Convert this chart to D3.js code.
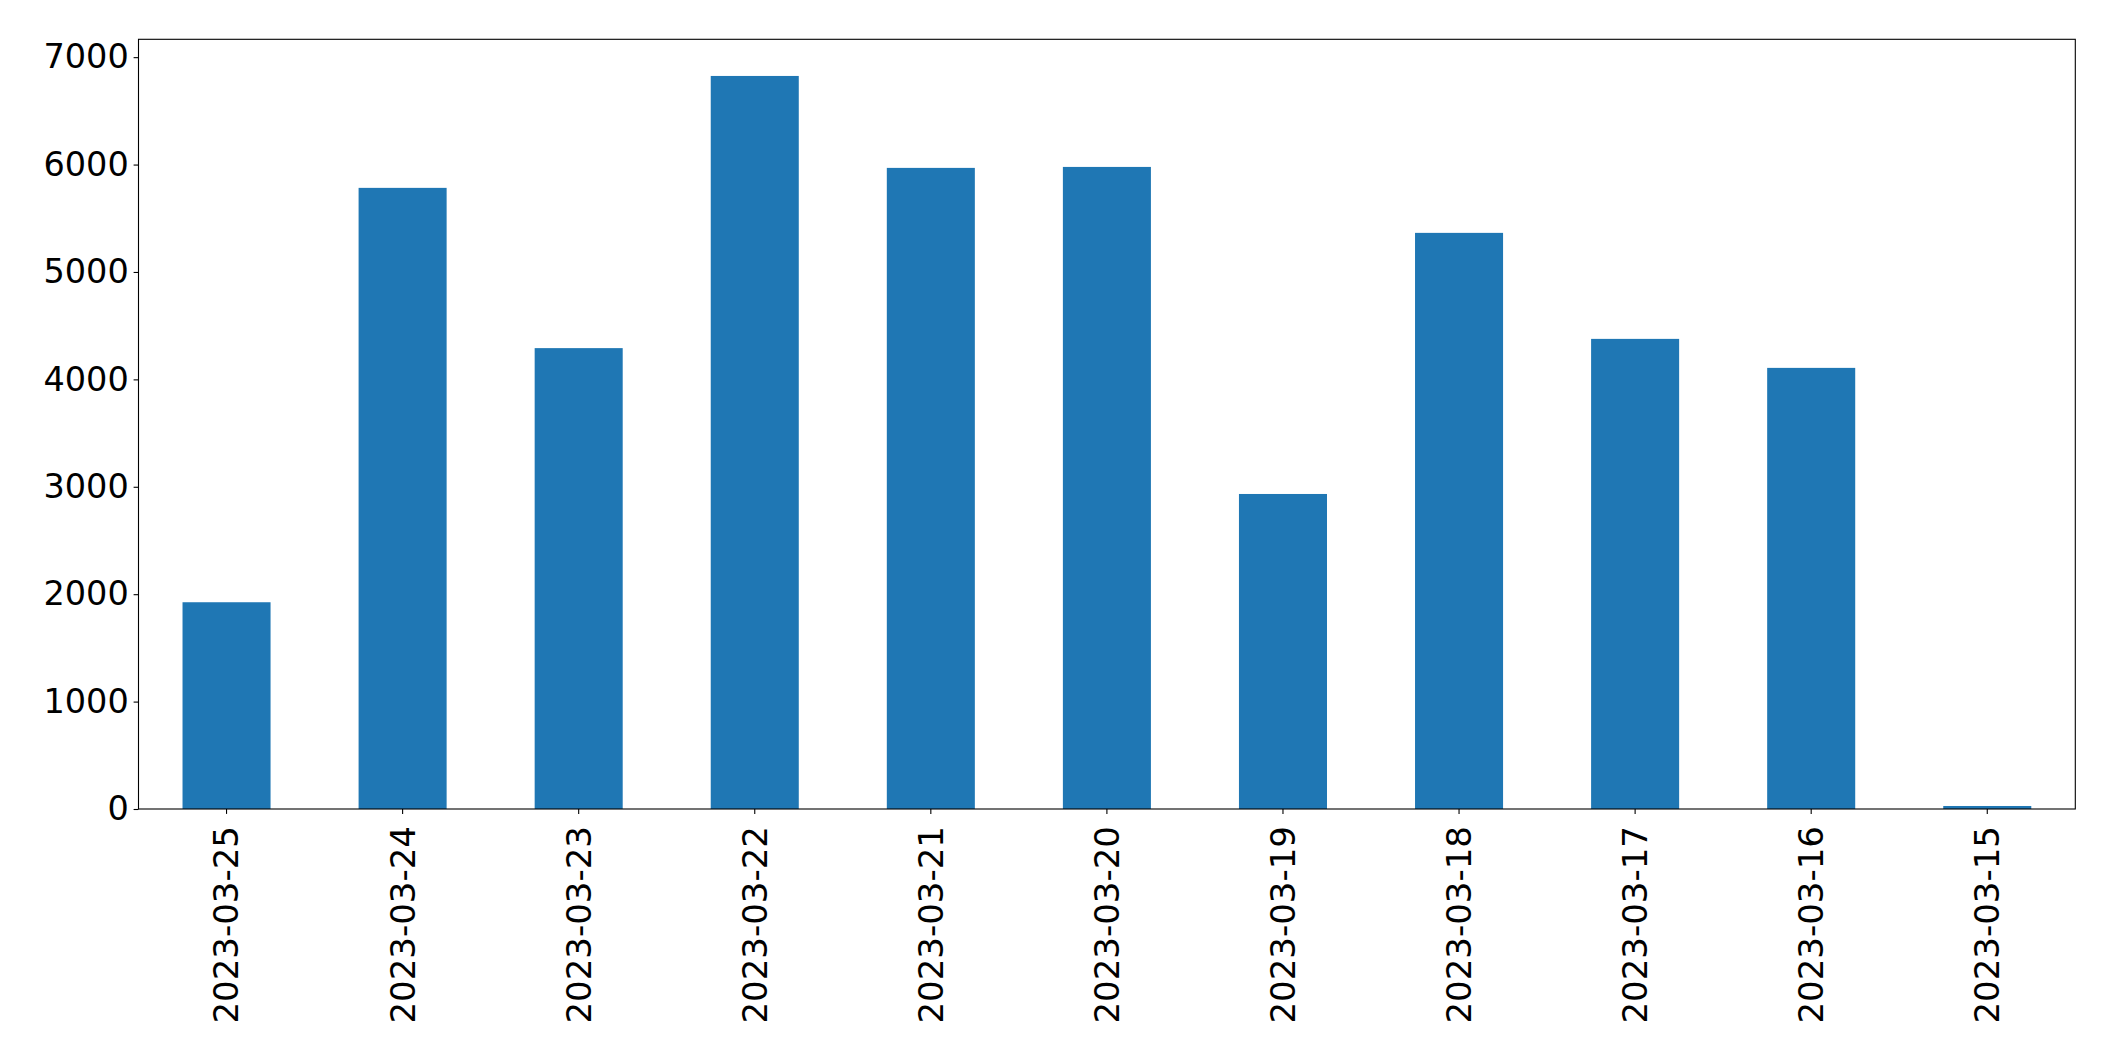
<!DOCTYPE html>
<html>
<head>
<meta charset="utf-8">
<script src="https://cdn.jsdelivr.net/npm/d3@7"></script>
<style>
  html, body { margin: 0; padding: 0; background: #fff; }
  svg { display: block; }
  text { font-family: "DejaVu Sans", sans-serif; }
</style>
</head>
<body>
<script>
const categories = ["2023-03-25","2023-03-24","2023-03-23","2023-03-22","2023-03-21","2023-03-20","2023-03-19","2023-03-18","2023-03-17","2023-03-16","2023-03-15"];
const values = [1925, 5783, 4291, 6825, 5969, 5978, 2933, 5364, 4377, 4107, 28];
const yTicks = [0, 1000, 2000, 3000, 4000, 5000, 6000, 7000];

(function () {
const W = 2115, H = 1061;
const mLeft = 138.5, mRight = 2075.3, mTop = 39.3, mBottom = 809;

const svg = d3.select("body").append("svg").attr("width", W).attr("height", H);

const x = d3.scaleBand().domain(categories).range([mLeft, mRight]).paddingInner(0.5).paddingOuter(0.25);
const y = d3.scaleLinear().domain([0, d3.max(values) * 1.05]).range([mBottom, mTop]);

svg.append("g").selectAll("rect").data(values).join("rect")
  .attr("x", (d, i) => x(categories[i]))
  .attr("width", x.bandwidth())
  .attr("y", d => y(d))
  .attr("height", d => mBottom - y(d))
  .attr("fill", "#1f77b4");

const yAxis = svg.append("g").attr("transform", `translate(${mLeft},0)`)
  .call(d3.axisLeft(y).tickValues(yTicks).tickFormat(d3.format("d")).tickSize(4.9).tickPadding(4.9));
yAxis.select(".domain").remove();
yAxis.selectAll("line").attr("stroke", "#000").attr("stroke-width", 1.1);
yAxis.selectAll("text").attr("font-size", "33.5px").attr("fill", "#000").attr("font-family", "DejaVu Sans");

const xAxis = svg.append("g").attr("transform", `translate(0,${mBottom})`)
  .call(d3.axisBottom(x).tickSize(4.9).tickPadding(4.9));
xAxis.select(".domain").remove();
xAxis.selectAll("line").attr("stroke", "#000").attr("stroke-width", 1.1);
xAxis.selectAll("text")
  .attr("font-size", "34px").attr("fill", "#000").attr("font-family", "DejaVu Sans")
  .attr("transform", "rotate(-90)")
  .attr("text-anchor", "end")
  .attr("x", -17)
  .attr("y", 0)
  .attr("dy", "0.35em");

svg.append("rect")
  .attr("x", mLeft).attr("y", mTop)
  .attr("width", mRight - mLeft).attr("height", mBottom - mTop)
  .attr("fill", "none").attr("stroke", "#000").attr("stroke-width", 1.1);
})();
</script>
</body>
</html>
